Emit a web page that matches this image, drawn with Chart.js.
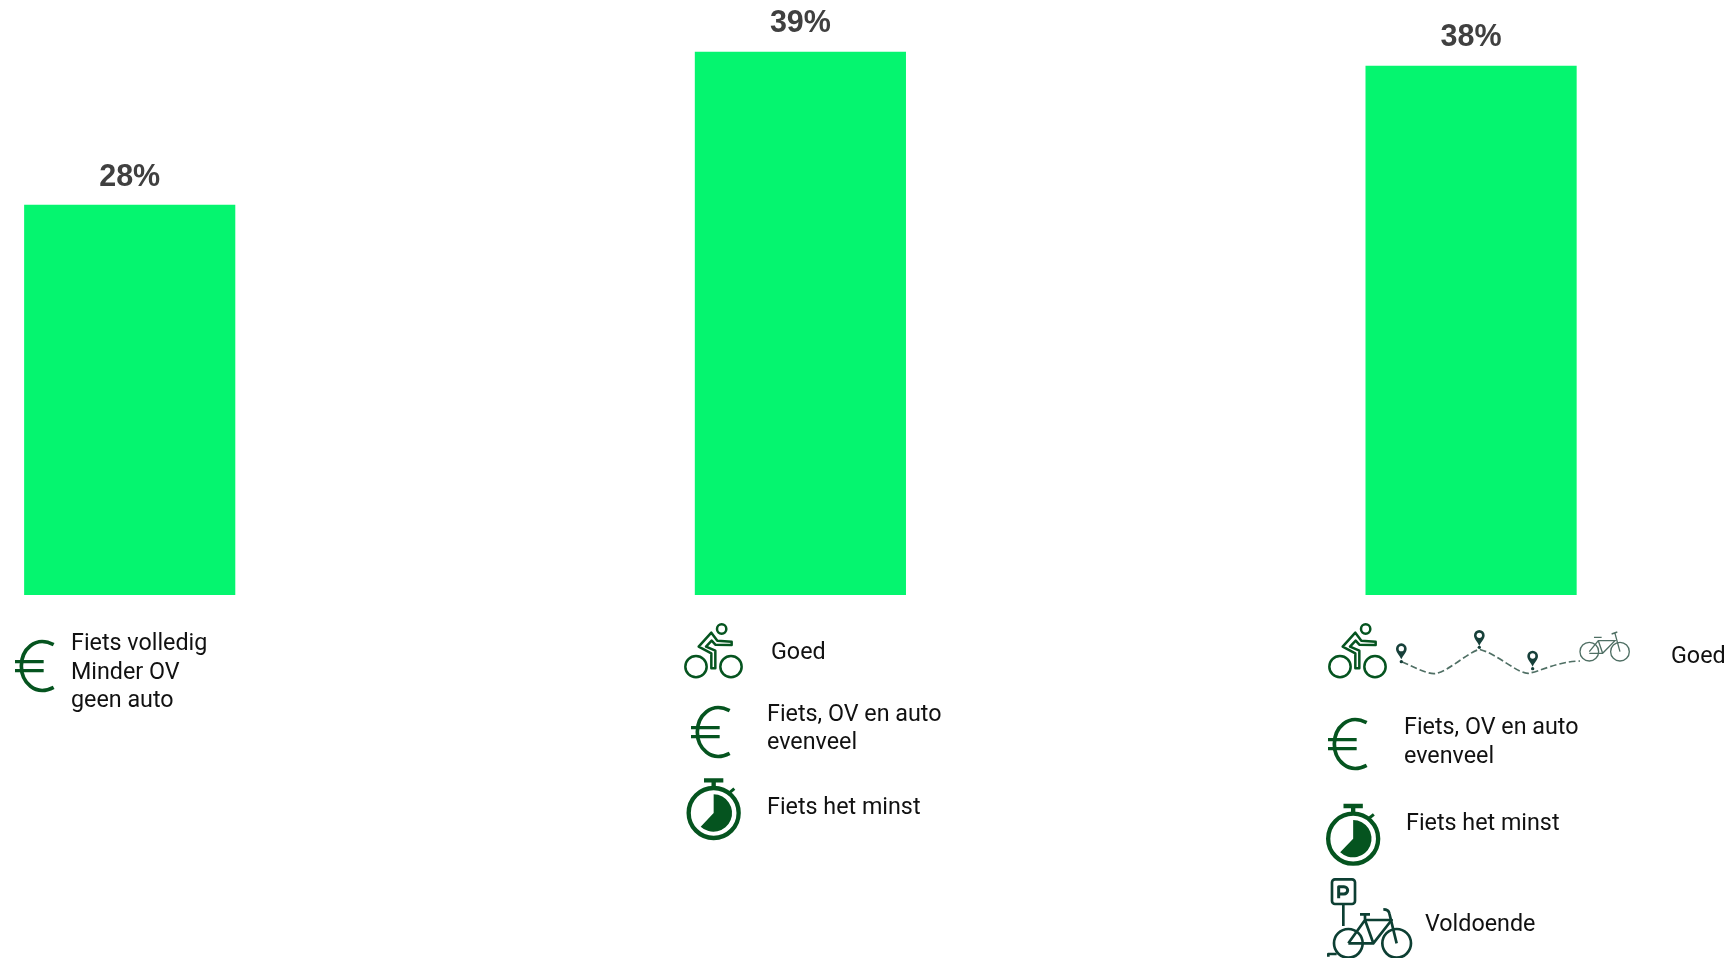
<!DOCTYPE html>
<html lang="nl"><head><meta charset="utf-8">
<style>
html,body{margin:0;padding:0;background:#fff;overflow:hidden;width:1735px;height:958px}
#c{position:absolute;left:0;top:0}
#o{position:absolute;left:0;top:0;pointer-events:none}
#o text{font-family:Roboto,sans-serif;font-size:23.3px;fill:#111}
</style>
<script src="https://cdn.jsdelivr.net/npm/chart.js@4"></script>
</head><body>
<div style="position:absolute;left:0;top:0;width:1735px;height:958px"><canvas id="c" width="1735" height="958"></canvas></div>
<svg id="o" width="1735" height="958" viewBox="0 0 1735 958" xmlns="http://www.w3.org/2000/svg">
<defs>
<g id="euro" fill="none" stroke="#05541f">
 <path stroke-width="11" d="M161 134C105 105 64 150 64 198C64 246 105 291 161 262"/>
 <path stroke-width="10" d="M45 185H131M45 212H131"/>
</g>
<g id="rider" fill="none" stroke="#05541f" stroke-width="7.5" stroke-linejoin="round">
 <circle cx="78" cy="170" r="32"/><circle cx="183" cy="170" r="32"/>
 <circle cx="155" cy="57" r="14"/>
 <path d="M124 175V130L86 110L124 68L142 92L185 95V105L136 104L125 92L108 110L136 122V175Z"/>
</g>
<g id="watch">
 <circle cx="131" cy="606" r="75" fill="none" stroke="#05541f" stroke-width="13"/>
 <path d="M102 508H160M131 508V532" stroke="#05541f" stroke-width="13" fill="none"/>
 <path d="M176 547L193 533" stroke="#05541f" stroke-width="9" fill="none"/>
 <path d="M131 606V550A56 56 0 1 1 92 647Z" fill="#05541f"/>
</g>
<g id="pin"><path d="M0 32C-5 19-16 12-16 0A16 16 0 0 1 16 0C16 12 5 19 0 32Z" fill="#17403a"/><circle r="8" fill="#fff"/></g>
</defs>

<use href="#euro" transform="translate(0 600) scale(.3333)"/>
<text x="71" y="650">Fiets volledig</text>
<text x="71" y="679">Minder OV</text>
<text x="71" y="707">geen auto</text>

<use href="#rider" transform="translate(670 610) scale(.3333)"/>
<text x="771" y="659">Goed</text>
<use href="#euro" transform="translate(676 666) scale(.3333)"/>
<text x="767" y="721">Fiets, OV en auto</text>
<text x="767" y="749">evenveel</text>
<use href="#watch" transform="translate(670 611) scale(.3333)"/>
<text x="767" y="814">Fiets het minst</text>

<use href="#rider" transform="translate(1314 610) scale(.3333)"/>
<g transform="translate(1320 610) scale(.3333)">
 <path d="M245 155C300 180 330 195 350 190C390 180 440 130 478 118C530 130 590 190 625 190C660 185 710 155 780 153" fill="none" stroke="#4f6f64" stroke-width="5" stroke-dasharray="20 9"/>
 <use href="#pin" x="244" y="116"/><circle cx="244" cy="155" r="5" fill="#17403a"/>
 <use href="#pin" x="478" y="76"/><circle cx="478" cy="112" r="5" fill="#17403a"/>
 <use href="#pin" x="638" y="138"/><circle cx="638" cy="176" r="5" fill="#17403a"/>
 <g fill="none" stroke="#4f6f64" stroke-width="4">
  <circle cx="808" cy="125" r="28"/><circle cx="900" cy="125" r="28"/>
  <path d="M808 125L835 92H885L848 130H808M835 92L848 130M885 70L900 125M822 82H845M875 72L892 66"/>
 </g>
</g>
<text x="1671" y="663">Goed</text>
<use href="#euro" transform="translate(1313 678) scale(.3333)"/>
<text x="1404" y="734">Fiets, OV en auto</text>
<text x="1404" y="763">evenveel</text>
<use href="#watch" transform="translate(1309.5 636.7) scale(.3333)"/>
<text x="1406" y="830">Fiets het minst</text>
<g transform="translate(1320 770) scale(.3333)" fill="none" stroke="#0d3f33" stroke-width="8" stroke-linejoin="round">
 <rect x="36" y="328" width="69" height="74" rx="9"/>
 <path d="M70 402V468"/>
 <path d="M56 385V350H72A11 11 0 0 1 72 372H56" stroke-width="9"/>
 <circle cx="85" cy="520" r="43"/><circle cx="230" cy="520" r="43"/>
 <path d="M85 520L135 450H215L160 520H85M135 450L160 520M120 433H150M135 433V450"/>
 <path d="M230 520L208 430C206 420 200 418 190 418"/>
 <path d="M25 560V552H50"/>
</g>
<text x="1425" y="931">Voldoende</text>
</svg>
<script>
const values = [28, 39, 38];
const positions = [0, 1, 2];
const valueLabels = ["28%", "39%", "38%"];

const labelPlugin = {
  id: "valueLabels",
  afterDatasetsDraw(chart) {
    const ctx = chart.ctx;
    const meta = chart.getDatasetMeta(0);
    ctx.save();
    ctx.font = 'bold 30.5px "Liberation Sans", Arial, sans-serif';
    ctx.fillStyle = "#404040";
    ctx.textAlign = "center";
    ctx.textBaseline = "middle";
    meta.data.forEach((bar, i) => ctx.fillText(valueLabels[i], bar.x, bar.y - 28));
    ctx.restore();
  }
};

new Chart(document.getElementById("c"), {
  type: "bar",
  data: {
    datasets: [{
      label: "Aandeel",
      data: values.map((v, i) => ({ x: positions[i], y: v })),
      backgroundColor: "#05f56f",
      borderWidth: 0,
      barThickness: 210.5
    }]
  },
  plugins: [labelPlugin],
  options: {
    responsive: false,
    animation: false,
    layout: { padding: { left: 0, right: 0, top: 0, bottom: 363 } },
    plugins: { legend: { display: false }, tooltip: { enabled: false } },
    scales: {
      x: { type: "linear", display: false, offset: false, min: -0.1934, max: 2.3935 },
      y: { display: false, min: 0, max: 42.74 }
    }
  }
});
</script>
</body></html>
